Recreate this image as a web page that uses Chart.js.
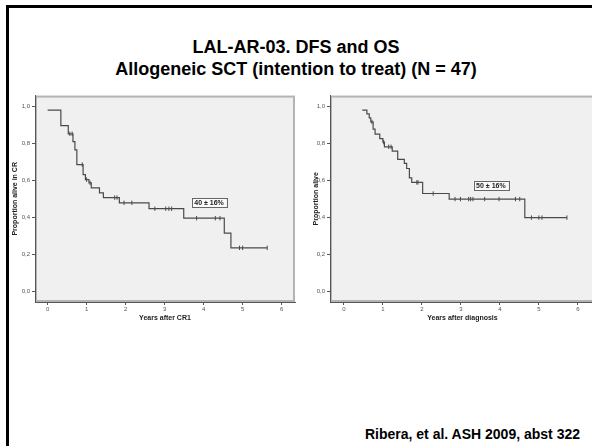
<!DOCTYPE html>
<html>
<head>
<meta charset="utf-8">
<script src="https://cdn.jsdelivr.net/npm/chart.js@4.4.0/dist/chart.umd.min.js"></script>
<style>
    html, body { margin: 0; padding: 0; width: 592px; height: 446px; overflow: hidden; background: #fff; font-family: "Liberation Sans", Arial, sans-serif; }
    #slide { position: absolute; left: 6px; top: 5px; width: 700px; height: 600px; border-left: 3px solid #000; border-top: 3px solid #000; }
    .title { position: absolute; left: 0; width: 592px; text-align: center; font-weight: bold; font-size: 18px; color: #000; white-space: nowrap; }
    #cite { position: absolute; right: 12px; top: 426px; font-weight: bold; font-size: 14px; color: #000; }
    canvas { position: absolute; }
</style>
</head>
<body>
<div id="slide"></div>
<div class="title" style="top: 37px;">LAL-AR-03. DFS and OS</div>
<div class="title" style="top: 59px;">Allogeneic SCT (intention to treat) (N = 47)</div>
<canvas id="dfsChart" width="300" height="240" style="left: 0; top: 90px;"></canvas>
<canvas id="osChart" width="305" height="240" style="left: 295px; top: 90px;"></canvas>
<div id="cite">Ribera, et al. ASH 2009, abst 322</div>
<script>
// DFS curve (years after CR1)
const dfsTimes = [0, 0.34, 0.53, 0.65, 0.70, 0.75, 0.91, 0.97, 1.06, 1.12, 1.33, 1.43, 1.84, 2.60, 3.49, 4.53, 4.70, 5.63];
const dfsSurv = [0.98, 0.896, 0.852, 0.81, 0.765, 0.686, 0.632, 0.605, 0.587, 0.56, 0.533, 0.508, 0.48, 0.448, 0.397, 0.316, 0.237, 0.237];
const dfsCensorTimes = [0.57, 0.63, 0.89, 1.0, 1.09, 1.72, 1.78, 1.96, 2.16, 2.75, 3.03, 3.11, 3.18, 3.82, 4.30, 4.42, 4.92, 5.0, 5.63];
const dfsCensorSurv = [0.852, 0.852, 0.686, 0.605, 0.587, 0.508, 0.508, 0.48, 0.48, 0.448, 0.448, 0.448, 0.448, 0.397, 0.397, 0.397, 0.237, 0.237, 0.237];

// OS curve (years after diagnosis)
const osTimes = [0.47, 0.59, 0.65, 0.69, 0.75, 0.80, 0.92, 1.0, 1.04, 1.24, 1.38, 1.55, 1.61, 1.68, 1.74, 2.02, 2.70, 4.64, 5.72];
const osSurv = [0.98, 0.959, 0.938, 0.916, 0.877, 0.85, 0.826, 0.807, 0.782, 0.759, 0.714, 0.692, 0.665, 0.614, 0.59, 0.53, 0.50, 0.40, 0.40];
const osCensorTimes = [0.72, 1.02, 1.15, 1.21, 1.87, 1.90, 2.29, 2.85, 2.99, 3.20, 3.25, 3.31, 3.61, 3.98, 4.40, 4.51, 4.81, 5.0, 5.08, 5.72];
const osCensorSurv = [0.916, 0.807, 0.782, 0.782, 0.59, 0.59, 0.53, 0.50, 0.50, 0.50, 0.50, 0.50, 0.50, 0.50, 0.50, 0.50, 0.40, 0.40, 0.40, 0.40];

const xTicks = [0, 1, 2, 3, 4, 5, 6];
const yTicks = [0, 0.2, 0.4, 0.6, 0.8, 1.0];

const lineColor = '#4a4a4a';

// gray plot area, frame and the percentage box
const plotFrame = {
    id: 'plotFrame',
    beforeDraw(chart) {
        const { ctx, chartArea: a } = chart;
        ctx.save();
        ctx.fillStyle = '#f0f0f0';
        ctx.fillRect(a.left, a.top, a.right - a.left, a.bottom - a.top);
        ctx.strokeStyle = '#b4b4b4';
        ctx.lineWidth = 2;
        ctx.strokeRect(a.left + 1, a.top + 1, a.right - a.left - 2, a.bottom - a.top - 2);
        ctx.restore();
    },
    afterDraw(chart, args, opts) {
        if (!opts.note) return;
        const { ctx, scales } = chart;
        const px = scales.x.getPixelForValue(opts.note.x);
        const py = scales.y.getPixelForValue(opts.note.y);
        ctx.save();
        ctx.font = 'bold 7px "Liberation Sans", Arial, sans-serif';
        const w = ctx.measureText(opts.note.text).width + 5;
        const h = 9;
        ctx.fillStyle = '#fbfbfb';
        ctx.fillRect(px - w / 2, py - h / 2, w, h);
        ctx.strokeStyle = '#666';
        ctx.lineWidth = 1;
        ctx.strokeRect(Math.round(px - w / 2) + 0.5, Math.round(py - h / 2) + 0.5, Math.round(w), h);
        ctx.fillStyle = '#222';
        ctx.textAlign = 'center';
        ctx.textBaseline = 'middle';
        ctx.fillText(opts.note.text, px, py + 0.5);
        ctx.restore();
    }
};

const makeKM = (canvasId, times, surv, cTimes, cSurv, cfg) => {
    const curve = times.map((t, i) => ({ x: t, y: surv[i] }));
    const censored = cTimes.map((t, i) => ({ x: t, y: cSurv[i] }));
    const tickFont = { family: '"Liberation Sans", Arial, sans-serif', size: 6 };
    const titleFont = { family: '"Liberation Sans", Arial, sans-serif', size: 7, weight: 'bold' };

    return new Chart(document.getElementById(canvasId), {
        type: 'line',
        data: {
            datasets: [{
                data: curve,
                borderColor: lineColor,
                borderWidth: 1.2,
                stepped: 'before',
                pointRadius: 0,
                fill: false
            }, {
                data: censored,
                showLine: false,
                pointStyle: 'line',
                rotation: 90,
                pointRadius: 2.2,
                borderColor: lineColor,
                pointBorderColor: lineColor,
                pointBorderWidth: 1
            }]
        },
        plugins: [plotFrame],
        options: {
            responsive: false,
            animation: false,
            layout: { padding: { top: 5, right: 3, left: 0, bottom: 0 } },
            plugins: {
                legend: { display: false },
                tooltip: { enabled: false },
                plotFrame: { note: cfg.note }
            },
            scales: {
                x: {
                    type: 'linear',
                    min: cfg.xMin,
                    max: cfg.xMax,
                    afterBuildTicks: (s) => { s.ticks = xTicks.map(v => ({ value: v })); },
                    afterFit: (s) => { s.height = 28; },
                    ticks: { font: tickFont, color: '#555', padding: 1, maxRotation: 0 },
                    grid: { drawOnChartArea: false, tickLength: 3, color: '#555' },
                    border: { color: '#555', width: 1 },
                    title: { display: true, text: cfg.xTitle, font: titleFont, color: '#222', padding: { top: 0, bottom: 7.5 } }
                },
                y: {
                    type: 'linear',
                    min: -0.055,
                    max: 1.058,
                    afterBuildTicks: (s) => { s.ticks = yTicks.map(v => ({ value: v })); },
                    afterFit: (s) => { s.width = 35; },
                    ticks: {
                        font: tickFont,
                        color: '#555',
                        padding: 2,
                        callback: (v) => v.toFixed(1).replace('.', ',')
                    },
                    grid: { drawOnChartArea: false, tickLength: 3, color: '#555' },
                    border: { color: '#555', width: 1 },
                    title: { display: true, text: cfg.yTitle, font: titleFont, color: '#222', padding: { top: cfg.yTitlePad, bottom: 0 } }
                }
            }
        }
    });
};

makeKM('dfsChart', dfsTimes, dfsSurv, dfsCensorTimes, dfsCensorSurv, {
    xMin: -0.323, xMax: 6.343,
    xTitle: 'Years after CR1',
    yTitle: 'Proportion alive in CR',
    yTitlePad: 11,
    note: { text: '40 ± 16%', x: 4.14, y: 0.48 }
});

makeKM('osChart', osTimes, osSurv, osCensorTimes, osCensorSurv, {
    xMin: -0.356, xMax: 6.44,
    xTitle: 'Years after diagnosis',
    yTitle: 'Proportion alive',
    yTitlePad: 16.5,
    note: { text: '50 ± 16%', x: 3.77, y: 0.573 }
});
</script>
</body>
</html>
